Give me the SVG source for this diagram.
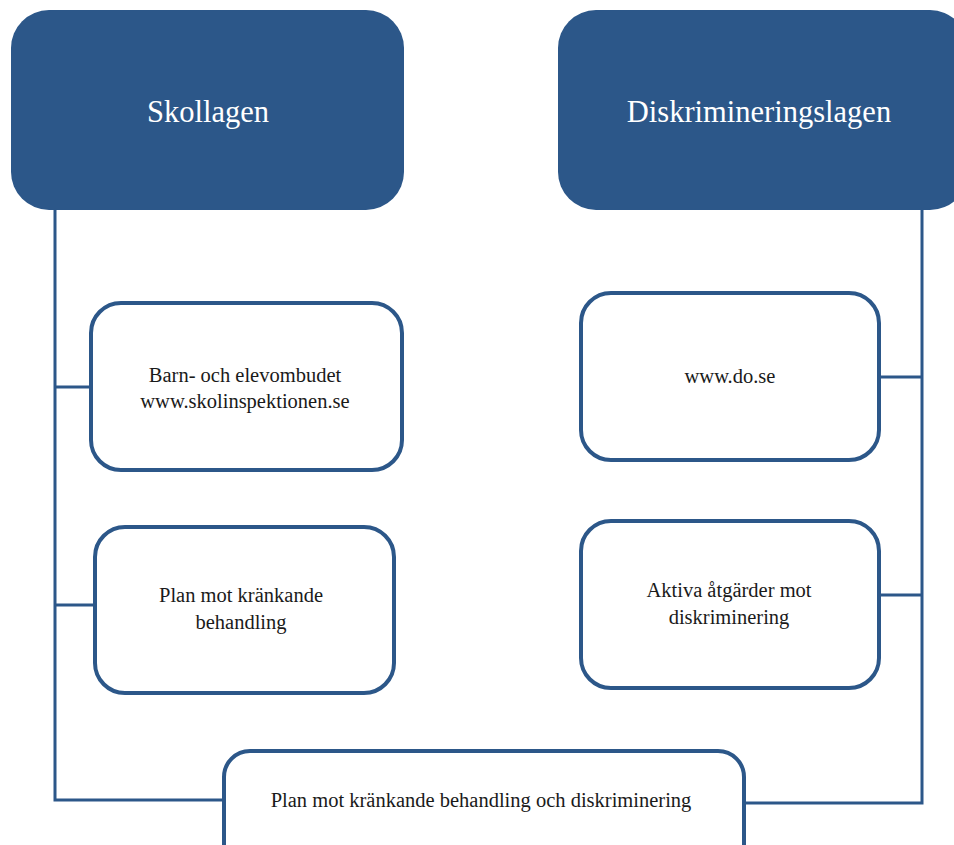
<svg xmlns="http://www.w3.org/2000/svg" width="954" height="845" viewBox="0 0 954 845">
<style>
.head{fill:#2c5789;}
.box{fill:#fff;stroke:#2c5789;stroke-width:4;}
.conn{fill:none;stroke:#2c5789;stroke-width:3;}
.ht{font-family:"Liberation Serif",serif;font-size:30.5px;fill:#fff;text-anchor:middle;}
.t{font-family:"Liberation Serif",serif;font-size:20.5px;fill:#1a1a1a;text-anchor:middle;}
</style>
<rect width="954" height="845" fill="#fff"/>
<g id="connectors">
<polyline class="conn" points="55,205 55,800 224,800"/>
<line class="conn" x1="55" y1="387" x2="91" y2="387"/>
<line class="conn" x1="55" y1="605" x2="95" y2="605"/>
<polyline class="conn" points="922,205 922,803 744,803"/>
<line class="conn" x1="879" y1="377" x2="922" y2="377"/>
<line class="conn" x1="879" y1="595" x2="922" y2="595"/>
</g>
<g id="skollagen">
<rect class="head" x="11" y="10" width="393" height="200" rx="38"/>
<text class="ht" x="208" y="122">Skollagen</text>
</g>
<g id="diskrimineringslagen">
<rect class="head" x="558" y="10" width="410" height="200" rx="38"/>
<text class="ht" x="759" y="122">Diskrimineringslagen</text>
</g>
<g id="barnombudet">
<rect class="box" x="91" y="303" width="311" height="167" rx="30"/>
<text class="t" x="245" y="382">Barn- och elevombudet</text>
<text class="t" x="245" y="408">www.skolinspektionen.se</text>
</g>
<g id="plan-krankande">
<rect class="box" x="95" y="527" width="299" height="166" rx="30"/>
<text class="t" x="241" y="602">Plan mot kränkande</text>
<text class="t" x="241" y="629">behandling</text>
</g>
<g id="do">
<rect class="box" x="581" y="293" width="298" height="167" rx="30"/>
<text class="t" x="730" y="383">www.do.se</text>
</g>
<g id="aktiva">
<rect class="box" x="581" y="521" width="298" height="167" rx="30"/>
<text class="t" x="729" y="597">Aktiva åtgärder mot</text>
<text class="t" x="729" y="624">diskriminering</text>
</g>
<g id="plan-bottom">
<rect class="box" x="224" y="751" width="520" height="120" rx="26"/>
<text class="t" x="481" y="807">Plan mot kränkande behandling och diskriminering</text>
</g>
</svg>
